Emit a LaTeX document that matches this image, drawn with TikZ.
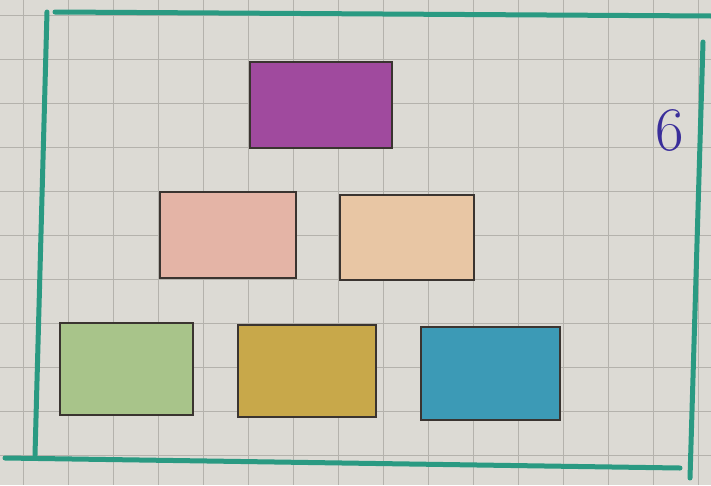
\documentclass[tikz,border=0pt]{standalone}
\definecolor{paper}{HTML}{DCDAD4}
\definecolor{gridc}{HTML}{B4B2AC}
\definecolor{teal}{HTML}{2A9A82}
\definecolor{ink}{HTML}{3A3430}
\definecolor{cpurple}{HTML}{A04A9E}
\definecolor{cpink}{HTML}{E4B4A6}
\definecolor{cpeach}{HTML}{E8C6A4}
\definecolor{cgreen}{HTML}{A8C48A}
\definecolor{cyellow}{HTML}{C8A84A}
\definecolor{cblue}{HTML}{3C9AB6}
\definecolor{numc}{HTML}{3A2E9A}
\tikzset{
  box/.style={draw=ink, line width=2pt, inner sep=0pt, outer sep=0pt},
  frame/.style={draw=teal, line width=5pt, line cap=round},
  gridline/.style={draw=gridc, line width=1pt}
}
\begin{document}
\begin{tikzpicture}[x=1pt,y=-1pt]
\useasboundingbox (0,0) rectangle (711,485);
\fill[paper] (0,0) rectangle (711,485);
\foreach \i in {0,...,15} { \draw[gridline] ({23+45*\i},0) -- ({23+45*\i},485); }
\foreach \j in {0,...,10} { \draw[gridline] (0,{15+44*\j}) -- (711,{15+44*\j}); }
% frame
\coordinate (t1) at (55,12); \coordinate (t2) at (711,16);
\coordinate (l1) at (47,12); \coordinate (l2) at (35,455);
\coordinate (r1) at (703,42); \coordinate (r2) at (690,478);
\coordinate (b1) at (5,458); \coordinate (b2) at (680,468);
\draw[frame] (t1) -- (t2);
\draw[frame] (l1) -- (l2);
\draw[frame] (r1) -- (r2);
\draw[frame] (b1) -- (b2);
% boxes
\node[box, fill=cpurple, minimum width=142pt, minimum height=86pt] (p) at (321,105) {};
\node[box, fill=cpink, minimum width=136pt, minimum height=86pt] (k) at (228,235) {};
\node[box, fill=cpeach, minimum width=134pt, minimum height=85pt] (o) at (407,237.5) {};
\node[box, fill=cgreen, minimum width=133pt, minimum height=92pt] (g) at (126.5,369) {};
\node[box, fill=cyellow, minimum width=138pt, minimum height=92pt] (y) at (307,371) {};
\node[box, fill=cblue, minimum width=139pt, minimum height=93pt] (b) at (490.5,373.5) {};
\node[text=numc, font=\fontsize{62}{62}\selectfont, inner sep=0pt] (n) at (670,130) {6};
\end{tikzpicture}
\end{document}
